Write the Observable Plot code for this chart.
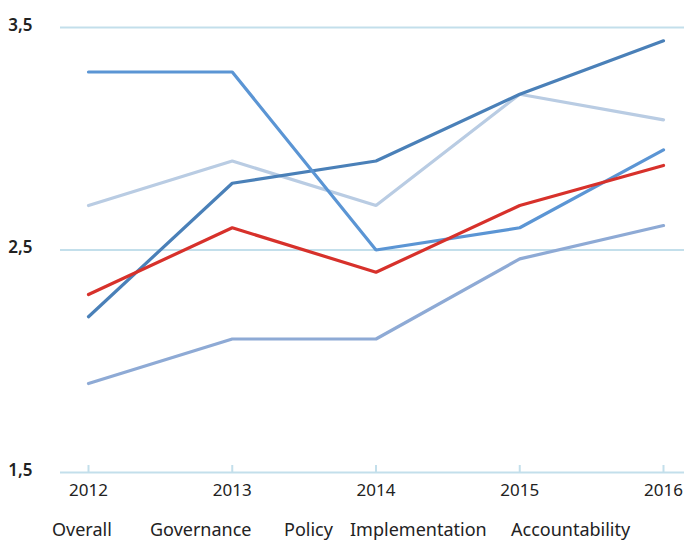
<!DOCTYPE html>
<html>
<head>
<meta charset="utf-8">
<script src="https://cdn.jsdelivr.net/npm/d3@7"></script>
<script src="https://cdn.jsdelivr.net/npm/@observablehq/plot@0.6"></script>
<style>
  html, body { margin: 0; padding: 0; background: #fff; }
  #wrap { position: relative; width: 684px; height: 546px; font-family: "Noto Sans", sans-serif; }
  #legend { position: relative; height: 36px; font-size: 18px; color: #222; }
  #legend span { position: absolute; top: 7px; white-space: nowrap; }
</style>
</head>
<body>
<div id="wrap">
  <div id="chart"></div>
  <div id="legend"></div>
</div>
<script>
const years = [2012, 2013, 2014, 2015, 2016];
const yTicks = [1.5, 2.5, 3.5];
const seriesNames = ["Overall", "Governance", "Policy", "Implementation", "Accountability"];
const overall        = [2.30, 2.60, 2.40, 2.70, 2.88];
const governance     = [2.20, 2.80, 2.90, 3.20, 3.44];
const policy         = [3.30, 3.30, 2.50, 2.60, 2.95];
const implementation = [2.70, 2.90, 2.70, 3.20, 3.085];
const accountability = [1.90, 2.10, 2.10, 2.46, 2.61];
const seriesColors = {
  Overall: "#d7312b",
  Governance: "#4a80b8",
  Policy: "#5b95d4",
  Implementation: "#b9cce3",
  Accountability: "#8eaad5"
};
const legendLeft = [52, 150, 284, 350, 511];

const valuesBy = {Overall: overall, Governance: governance, Policy: policy, Implementation: implementation, Accountability: accountability};
const drawOrder = ["Implementation", "Accountability", "Governance", "Policy", "Overall"];
const data = drawOrder.flatMap(name => years.map((yr, i) => ({series: name, year: yr, value: valuesBy[name][i]})));

const chart = Plot.plot({
  width: 684,
  height: 510,
  marginTop: 27,
  marginBottom: 38,
  marginLeft: 88,
  marginRight: 21,
  style: {fontFamily: "Noto Sans, sans-serif", background: "#fff"},
  x: {domain: [2012, 2016], axis: null},
  y: {domain: [1.5, 3.5], axis: null},
  marks: [
    Plot.ruleY(yTicks, {y: d => d, stroke: "#c3dfeb", strokeWidth: 2, insetLeft: -28, insetRight: -21}),
    Plot.ruleX(years, {x: d => d, y1: 1.5, y2: 1.5, insetTop: -7, stroke: "#c3dfeb", strokeWidth: 2}),
    Plot.text(years, {x: d => d, y: 1.5, text: d => String(d), dy: 18, fontSize: 17, fill: "#222", textAnchor: "middle"}),
    Plot.text(yTicks, {x: 2012, y: d => d, text: d => d.toFixed(1).replace(".", ","), dx: -56, dy: -2, textAnchor: "end", fontSize: 17, fontWeight: 600, fill: "#222"}),
    Plot.line(data, {x: "year", y: "value", z: "series", stroke: d => seriesColors[d.series], strokeWidth: 3.2, strokeLinejoin: "miter"})
  ]
});
document.getElementById("chart").appendChild(chart);

const legend = document.getElementById("legend");
seriesNames.forEach((name, i) => {
  const s = document.createElement("span");
  s.textContent = name;
  s.style.left = legendLeft[i] + "px";
  legend.appendChild(s);
});
</script>
</body>
</html>
